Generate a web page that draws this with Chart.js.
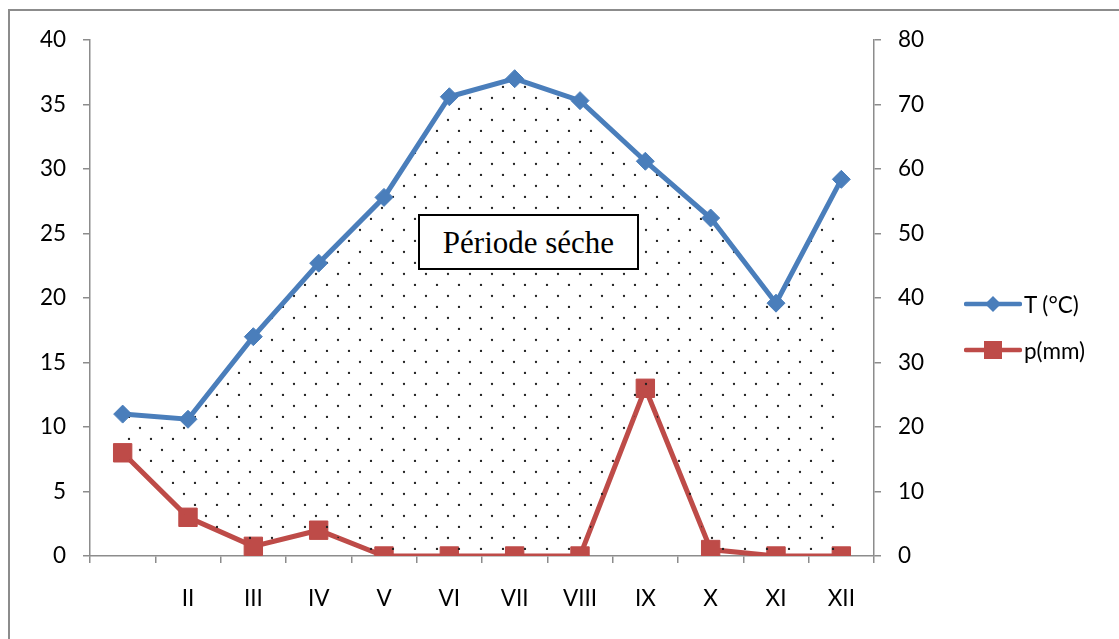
<!DOCTYPE html>
<html><head><meta charset="utf-8">
<script src="https://cdn.jsdelivr.net/npm/chart.js@4.4.1/dist/chart.umd.min.js"></script>
<style>
html,body{margin:0;padding:0;background:#fff;overflow:hidden}
#wrap{position:relative;width:1119px;height:639px;overflow:hidden}
#frame{position:absolute;left:8px;top:9px;width:1300px;height:800px;border-left:2px solid #8c8c8c;border-top:2px solid #8c8c8c}
canvas{position:absolute;left:0;top:0}
#note{position:absolute;left:418px;top:214px;width:221px;height:56px;box-sizing:border-box;border:2px solid #000;background:#fff;font-family:'Liberation Serif','Times New Roman',serif;font-size:31px;display:flex;align-items:center;justify-content:center;color:#000;padding-top:1px}
.leg{position:absolute;left:964px;height:26px;display:flex;align-items:center;font-family:Lato,'Open Sans',sans-serif;font-size:22.5px;color:#000}
.leg svg{margin-right:2px}
</style></head>
<body>
<div id="wrap">
<div id="frame"></div>
<canvas id="c" width="1119" height="639"></canvas>
<div id="note">Période séche</div>
<div class="leg" style="top:291px"><svg width="58" height="26"><line x1="2" y1="13" x2="56" y2="13" stroke="#4a7ebb" stroke-width="4.5" stroke-linecap="round"/><polygon points="29,5 37,13 29,21 21,13" fill="#4a7ebb"/></svg><span>T (°C)</span></div>
<div class="leg" style="top:337px"><svg width="58" height="26"><line x1="2" y1="13" x2="56" y2="13" stroke="#be4b48" stroke-width="4.5" stroke-linecap="round"/><rect x="20" y="4" width="18" height="18" fill="#be4b48"/></svg><span>p(mm)</span></div>
</div>
<script>
const months = ['I','II','III','IV','V','VI','VII','VIII','IX','X','XI','XII'];
const tickLabels = ['','II','III','IV','V','VI','VII','VIII','IX','X','XI','XII'];
const temperature = [11.0, 10.6, 17.0, 22.7, 27.8, 35.6, 37.0, 35.3, 30.6, 26.2, 19.6, 29.2];
const precipitation = [16, 6, 1.5, 4, 0, 0, 0, 0, 26, 1, 0, 0];
const tempAxis = {min: 0, max: 40, step: 5};
const precAxis = {min: 0, max: 80, step: 10};

// dotted pattern
const pc = document.createElement('canvas');
pc.width = 22; pc.height = 22;
const px = pc.getContext('2d');
px.fillStyle = '#222';
[[8,10],[19,21]].forEach(([x,y])=>{px.beginPath();px.arc(x,y,1.15,0,Math.PI*2);px.fill();});
const ctx = document.getElementById('c').getContext('2d');
const pattern = ctx.createPattern(pc,'repeat');

const tickFont = {family: "Lato, 'Open Sans', sans-serif", size: 22.5};
const axisGray = '#8c8c8c';

new Chart(ctx, {
  type: 'line',
  data: {
    labels: months,
    datasets: [
      {label: 'T (°C)', data: temperature, yAxisID: 'y', borderColor: '#4a7ebb', backgroundColor: pattern,
       borderWidth: 5, pointStyle: 'rectRot', pointRadius: 9, pointBackgroundColor: '#4a7ebb', pointBorderColor: '#4a7ebb',
       pointBorderWidth: 1, fill: '+1', tension: 0},
      {label: 'p(mm)', data: precipitation, yAxisID: 'y1', borderColor: '#be4b48', backgroundColor: '#be4b48',
       borderWidth: 5, pointStyle: 'rect', pointRadius: 13, pointBackgroundColor: '#be4b48', pointBorderColor: '#be4b48',
       pointBorderWidth: 1, fill: false, tension: 0}
    ]
  },
  options: {
    responsive: false, animation: false,
    layout: {padding: {top: 40, left: 0, right: 0, bottom: 0}},
    plugins: {legend: {display: false}, tooltip: {enabled: false}},
    scales: {
      x: {offset: true,
          grid: {offset: true, drawOnChartArea: false, tickLength: 7, color: axisGray, lineWidth: 1.5},
          border: {color: axisGray, width: 1.5},
          ticks: {font: tickFont, color: '#000', padding: 22, autoSkip: false, maxRotation: 0,
                  callback: (v, i) => tickLabels[i]},
          afterFit: s => { s.height = 83; }},
      y: {position: 'left', min: tempAxis.min, max: tempAxis.max,
          grid: {drawOnChartArea: false, tickLength: 7, color: axisGray, lineWidth: 1.5},
          border: {color: axisGray, width: 1.5},
          ticks: {stepSize: tempAxis.step, font: tickFont, color: '#000', padding: 17},
          afterFit: s => { s.width = 90; }},
      y1: {position: 'right', min: precAxis.min, max: precAxis.max,
          grid: {drawOnChartArea: false, tickLength: 7, color: axisGray, lineWidth: 1.5},
          border: {color: axisGray, width: 1.5},
          ticks: {stepSize: precAxis.step, font: tickFont, color: '#000', padding: 17},
          afterFit: s => { s.width = 245; }}
    }
  }
});
</script>
</body></html>
